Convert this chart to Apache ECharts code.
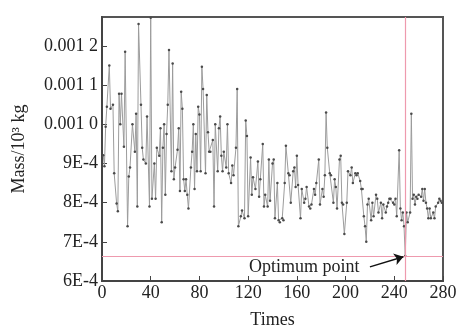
<!DOCTYPE html>
<html>
<head>
<meta charset="utf-8">
<script src="https://cdn.jsdelivr.net/npm/echarts@6/dist/echarts.min.js"></script>
<style>
  html, body { margin: 0; padding: 0; background: #fff; }
  #chart { width: 463px; height: 334px; }
</style>
</head>
<body>
<div id="chart"></div>
<script>
// iteration number (Times) and mass in units of 1E-4 kg
var times = [1, 2, 3, 4, 6, 7, 9, 10, 12, 13, 14, 15, 16, 18, 19, 21, 22, 23, 25, 27, 28, 29, 30, 32, 33, 34, 36, 37, 39, 40,
  41, 43, 44, 45, 47, 48, 49, 50, 51, 52, 53, 54, 55, 57, 58, 59, 60, 62, 63, 64, 65, 66, 67, 68, 69, 70, 71, 73, 74, 75,
  76, 77, 78, 79, 80, 81, 82, 83, 85, 86, 87, 88, 89, 91, 92, 93, 95, 96, 97, 98, 99, 100, 102, 103, 104, 106, 107, 108, 110, 111,
  112, 114, 115, 117, 118, 119, 120, 122, 123, 124, 126, 128, 129, 130, 132, 133, 134, 136, 137, 138, 140, 141, 142, 144, 145, 146, 148, 149, 150, 151,
  153, 154, 155, 157, 158, 159, 160, 161, 163, 164, 166, 167, 168, 170, 171, 172, 174, 175, 176, 178, 179, 181, 182, 183, 184, 185, 187, 188, 190, 191,
  192, 193, 195, 196, 197, 198, 199, 201, 202, 204, 205, 206, 208, 209, 210, 212, 213, 214, 215, 216, 217, 218, 219, 221, 222, 223, 225, 226, 227, 229,
  230, 231, 233, 234, 235, 236, 237, 239, 240, 241, 242, 244, 245, 246, 247, 248, 249, 250, 251, 253, 254, 255, 256, 257, 258, 259, 260, 262, 263, 264,
  265, 266, 267, 268, 269, 270, 272, 273, 274, 276, 277, 278, 279];
var massE4 = [9.21, 8.93, 9.94, 10.45, 11.5, 10.4, 10.5, 8.75, 7.98, 7.78, 10.78, 10.0, 10.78, 9.43, 11.85, 7.4, 8.67, 8.9, 10.0, 9.3, 10.27, 7.9, 12.56, 10.5, 9.4, 9.1, 9.0, 10.2, 7.9, 12.72,
  8.1, 9.0, 8.1, 9.4, 9.2, 9.9, 7.5, 9.4, 10.0, 8.2, 9.75, 10.5, 11.9, 8.8, 11.55, 8.6, 8.9, 9.35, 9.9, 8.3, 10.83, 10.4, 8.6, 8.3, 8.6, 8.2, 7.85, 8.9, 9.3, 10.0,
  8.35, 9.75, 8.8, 10.45, 10.25, 8.8, 11.47, 10.9, 8.75, 10.75, 9.8, 9.3, 9.3, 9.6, 7.9, 10.0, 8.8, 9.9, 10.2, 9.2, 8.8, 9.3, 8.9, 10.0, 8.75, 8.5, 8.95, 8.7, 9.4, 10.9,
  7.4, 7.65, 7.8, 7.6, 10.1, 9.7, 7.65, 9.15, 8.2, 8.65, 8.35, 9.05, 8.15, 8.6, 9.5, 7.9, 8.2, 7.9, 9.1, 8.05, 9.0, 9.1, 7.6, 8.5, 7.55, 7.5, 7.6, 7.55, 8.5, 9.45,
  8.75, 8.7, 8.0, 8.8, 8.9, 8.4, 9.2, 8.45, 7.6, 8.35, 8.0, 8.1, 8.4, 7.9, 7.85, 7.95, 8.35, 8.2, 8.5, 9.1, 7.95, 8.35, 8.15, 8.7, 10.3, 9.4, 8.75, 8.7, 8.0, 8.6,
  8.4, 7.85, 9.1, 9.2, 8.0, 7.95, 7.2, 8.0, 8.8, 8.7, 8.9, 8.5, 8.75, 8.7, 8.75, 8.55, 8.35, 8.35, 7.65, 7.4, 7.0, 7.95, 8.1, 7.55, 8.0, 7.65, 8.2, 8.1, 7.75, 8.0,
  7.6, 7.95, 7.75, 7.9, 8.0, 8.1, 8.1, 8.0, 7.95, 8.1, 7.65, 9.34, 7.85, 7.55, 7.75, 7.4, 6.64, 7.75, 7.5, 7.75, 10.27, 8.1, 8.2, 7.95, 8.15, 8.1, 8.2, 8.15, 8.35, 8.05,
  8.35, 8.0, 7.85, 7.6, 7.85, 7.6, 7.75, 7.6, 7.9, 8.0, 8.1, 8.05, 8.0];

var yTickLabels = ['6E-4', '7E-4', '8E-4', '9E-4', '0.001 0', '0.001 1', '0.001 2'];

// optimum point and its annotation
var optimumTime = 249;
var optimumMass = 6.64;
var noteText = 'Optimum point';
var noteAt = [166, 6.36];
var arrowFrom = [220, 6.36];
var arrowTo = [247.5, 6.62];

var serif = '"Liberation Serif", "DejaVu Serif", serif';

var points = times.map(function (t, i) { return [t, massE4[i]]; });

var chart = echarts.init(document.getElementById('chart'));

var option = {
  animation: false,
  grid: {
    left: 102, right: 20, top: 17, bottom: 52,
    show: true,
    borderColor: '#555',
    borderWidth: 2,
    backgroundColor: 'transparent'
  },
  xAxis: {
    type: 'value',
    min: 0, max: 280, interval: 40,
    name: 'Times',
    nameLocation: 'middle',
    nameGap: 30,
    nameTextStyle: { fontFamily: serif, fontSize: 18, color: '#222' },
    axisLine: { lineStyle: { color: '#444', width: 2 } },
    axisTick: { inside: true, length: 5, lineStyle: { color: '#444' } },
    axisLabel: { fontFamily: serif, fontSize: 18, color: '#222', margin: 3 },
    splitLine: { show: false }
  },
  yAxis: {
    type: 'value',
    min: 6, max: 12.74, interval: 1,
    name: 'Mass/10³ kg',
    nameLocation: 'middle',
    nameGap: 74,
    nameTextStyle: { fontFamily: serif, fontSize: 18, color: '#222' },
    axisLine: { show: true, lineStyle: { color: '#444', width: 2 } },
    axisTick: { show: true, inside: true, length: 5, lineStyle: { color: '#444' } },
    axisLabel: {
      fontFamily: serif, fontSize: 18, color: '#222', margin: 4,
      showMaxLabel: false,
      formatter: function (v) {
        var k = Math.round(v - 6);
        return Math.abs(v - 6 - k) < 1e-6 ? (yTickLabels[k] || '') : '';
      }
    },
    splitLine: { show: false }
  },
  series: [
    {
      type: 'line',
      data: points,
      showAllSymbol: true,
      symbol: 'circle',
      symbolSize: 2.5,
      lineStyle: { color: '#9c9c9c', width: 1 },
      itemStyle: { color: '#4a4a4a' },
      markLine: {
        silent: true,
        symbol: 'none',
        label: { show: false },
        lineStyle: { color: '#ee9aae', width: 1.2, type: 'solid' },
        data: [
          { xAxis: optimumTime },
          { yAxis: optimumMass },
          [
            { coord: arrowFrom, symbol: 'none', lineStyle: { color: '#111', width: 1.5 } },
            { coord: arrowTo, symbol: 'arrow', symbolSize: 9 }
          ]
        ]
      },
      markPoint: {
        silent: true,
        symbol: 'circle',
        symbolSize: 0,
        data: [{ coord: noteAt }],
        label: {
          show: true,
          formatter: noteText,
          fontFamily: serif,
          fontSize: 18,
          color: '#222'
        }
      }
    }
  ]
};

chart.setOption(option);
</script>
</body>
</html>
